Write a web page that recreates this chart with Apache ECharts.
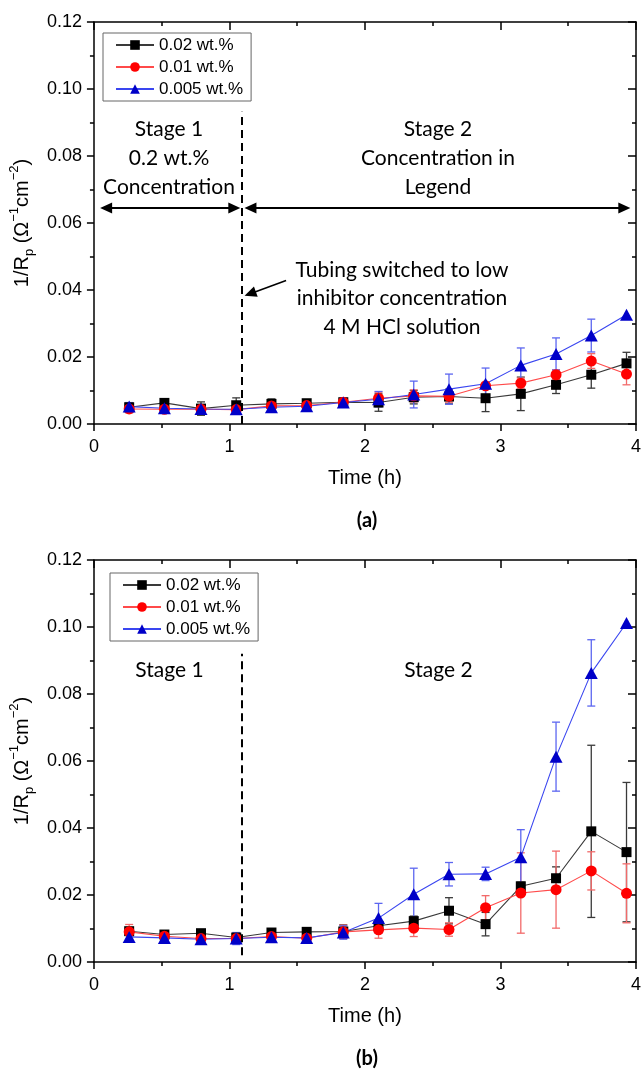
<!DOCTYPE html>
<html>
<head>
<meta charset="utf-8">
<script src="https://cdn.jsdelivr.net/npm/echarts@6/dist/echarts.min.js"></script>
<style>
  html, body { margin: 0; padding: 0; background: #fff; }
  #chart { width: 644px; height: 1069px; }
</style>
</head>
<body>
<div id="chart"></div>
<script>
// Sampling times (h), shared by both experiments
const timeH = [0.26, 0.52, 0.79, 1.05, 1.31, 1.57, 1.84, 2.10, 2.36, 2.62, 2.89, 3.15, 3.41, 3.67, 3.93];

const seriesNames = ['0.02 wt.%', '0.01 wt.%', '0.005 wt.%'];

// Panel (a): 1/Rp values and error half-widths
const a002 = [0.0050, 0.0063, 0.0046, 0.0056, 0.0060, 0.0062, 0.0065, 0.0064, 0.0080, 0.0082, 0.0077, 0.0090, 0.0117, 0.0147, 0.0181];
const a001 = [0.0045, 0.0044, 0.0044, 0.0043, 0.0054, 0.0055, 0.0065, 0.0077, 0.0084, 0.0083, 0.0114, 0.0122, 0.0147, 0.0188, 0.0149];
const a0005 = [0.0052, 0.0047, 0.0045, 0.0044, 0.0050, 0.0053, 0.0064, 0.0074, 0.0088, 0.0104, 0.0120, 0.0175, 0.0209, 0.0264, 0.0326];
const aErr002 = [0.0012, 0.0010, 0.0020, 0.0022, 0.0015, 0.0009, 0.0010, 0.0026, 0.0020, 0.0022, 0.0040, 0.0050, 0.0026, 0.0040, 0.0033];
const aErr001 = [0.0012, 0.0010, 0.0010, 0.0008, 0.0008, 0.0008, 0.0010, 0.0018, 0.0018, 0.0018, 0.0010, 0.0015, 0.0015, 0.0022, 0.0032];
const aErr0005 = [0.0012, 0.0015, 0.0012, 0.0012, 0.0010, 0.0012, 0.0012, 0.0023, 0.0040, 0.0045, 0.0047, 0.0052, 0.0048, 0.0049, 0];

// Panel (b)
const b002 = [0.0092, 0.0082, 0.0086, 0.0073, 0.0088, 0.0090, 0.0091, 0.0108, 0.0122, 0.0153, 0.0113, 0.0226, 0.0250, 0.0390, 0.0328];
const b001 = [0.0090, 0.0077, 0.0070, 0.0070, 0.0076, 0.0071, 0.0090, 0.0096, 0.0101, 0.0097, 0.0162, 0.0206, 0.0216, 0.0272, 0.0205];
const b0005 = [0.0075, 0.0072, 0.0068, 0.0070, 0.0074, 0.0072, 0.0088, 0.0131, 0.0202, 0.0262, 0.0263, 0.0313, 0.0613, 0.0863, 0.1012];
const bErr002 = [0.0010, 0.0006, 0.0008, 0.0008, 0.0008, 0.0008, 0.0020, 0.0010, 0.0015, 0.0039, 0.0035, 0.0012, 0.0034, 0.0257, 0.0208];
const bErr001 = [0.0022, 0.0010, 0.0015, 0.0012, 0.0010, 0.0012, 0.0020, 0.0025, 0.0025, 0.0020, 0.0036, 0.0120, 0.0115, 0.0057, 0.0088];
const bErr0005 = [0.0015, 0.0010, 0.0012, 0.0018, 0.0015, 0.0012, 0.0020, 0.0044, 0.0078, 0.0035, 0.0020, 0.0082, 0.0103, 0.0099, 0];

// Axis ticks
const xTicks = [0, 1, 2, 3, 4];
const yTicks = [0, 0.02, 0.04, 0.06, 0.08, 0.10, 0.12];

// Annotation geometry in data units
const stageSwitchTime = 1.092;
const stageArrowY = 0.0645;

const axisFont = 'Liberation Sans, Arial, sans-serif';
const noteFont = 'Lato, "Open Sans", sans-serif';

const looks = [
  { symbol: 'rect', size: 10, fill: '#000000', line: '#3a3a3a', bar: '#3a3a3a' },
  { symbol: 'circle', size: 11, fill: '#ff0000', line: '#ff4a4a', bar: '#f26a6a' },
  { symbol: 'triangle', size: [13, 12], fill: '#0000c8', line: '#3a46f0', bar: '#5c66f0' }
];

const chart = echarts.init(document.getElementById('chart'), null, { renderer: 'canvas' });

function xAxes(gridIndex) {
  const common = {
    gridIndex, type: 'value', min: xTicks[0], max: xTicks[xTicks.length - 1], interval: 1,
    axisLine: { show: true, onZero: false, lineStyle: { color: '#000', width: 1.5 } },
    splitLine: { show: false },
    minorTick: { show: true, splitNumber: 2, length: 4, lineStyle: { color: '#000', width: 1.5 } }
  };
  return [
    Object.assign({}, common, {
      position: 'bottom',
      axisTick: { show: true, length: 7, lineStyle: { color: '#000', width: 1.5 } },
      axisLabel: { show: true, color: '#000', fontFamily: axisFont, fontSize: 18, margin: 14 },
      name: 'Time (h)', nameLocation: 'middle', nameGap: 44,
      nameTextStyle: { color: '#000', fontFamily: axisFont, fontSize: 20 }
    }),
    Object.assign({}, common, {
      position: 'top',
      axisTick: { show: true, inside: true, length: 8, lineStyle: { color: '#000', width: 1.5 } },
      axisLabel: { show: false }
    })
  ];
}

function yAxes(gridIndex) {
  const common = {
    gridIndex, type: 'value', min: yTicks[0], max: yTicks[yTicks.length - 1], interval: 0.02,
    axisLine: { show: true, onZero: false, lineStyle: { color: '#000', width: 1.5 } },
    splitLine: { show: false },
    minorTick: { show: true, splitNumber: 2, length: 4, lineStyle: { color: '#000', width: 1.5 } }
  };
  return [
    Object.assign({}, common, {
      position: 'left',
      axisTick: { show: true, length: 7, lineStyle: { color: '#000', width: 1.5 } },
      axisLabel: {
        show: true, color: '#000', fontFamily: axisFont, fontSize: 18, margin: 12,
        formatter: v => v.toFixed(2)
      },
      name: '{m|1/R}{sub|p}{m| (Ω}{sup|−1}{m|cm}{sup|−2}{m|)}',
      nameLocation: 'middle', nameGap: 57,
      nameTextStyle: {
        color: '#000', fontFamily: axisFont, fontSize: 20,
        rich: {
          m: { fontFamily: axisFont, fontSize: 20, lineHeight: 28, color: '#000' },
          sub: { fontFamily: axisFont, fontSize: 13, lineHeight: 13, verticalAlign: 'bottom', color: '#000' },
          sup: { fontFamily: axisFont, fontSize: 13, lineHeight: 13, verticalAlign: 'top', color: '#000' }
        }
      }
    }),
    Object.assign({}, common, {
      position: 'right',
      axisTick: { show: true, inside: true, length: 8, lineStyle: { color: '#000', width: 1.5 } },
      axisLabel: { show: false }
    })
  ];
}

function errorBars(axisIdx, values, errs, color) {
  const data = timeH.map((t, i) => [t, values[i] - errs[i], values[i] + errs[i], errs[i]]);
  return {
    type: 'custom', xAxisIndex: axisIdx, yAxisIndex: axisIdx, silent: true, z: 2,
    encode: { x: 0, y: [1, 2] },
    data,
    renderItem(params, api) {
      if (api.value(3) <= 0) return null;
      const t = api.value(0);
      const lo = api.coord([t, api.value(1)]);
      const hi = api.coord([t, api.value(2)]);
      const cap = 4;
      const style = { stroke: color, lineWidth: 1.3, fill: null };
      return {
        type: 'group',
        children: [
          { type: 'line', shape: { x1: lo[0], y1: lo[1], x2: hi[0], y2: hi[1] }, style },
          { type: 'line', shape: { x1: lo[0] - cap, y1: lo[1], x2: lo[0] + cap, y2: lo[1] }, style },
          { type: 'line', shape: { x1: hi[0] - cap, y1: hi[1], x2: hi[0] + cap, y2: hi[1] }, style }
        ]
      };
    }
  };
}

function lineSeries(axisIdx, k, values) {
  const lk = looks[k];
  return {
    type: 'line', name: seriesNames[k], xAxisIndex: axisIdx, yAxisIndex: axisIdx,
    data: timeH.map((t, i) => [t, values[i]]),
    symbol: lk.symbol, symbolSize: lk.size,
    showSymbol: true, z: 3,
    itemStyle: { color: lk.fill, borderWidth: 0 },
    lineStyle: { color: lk.line, width: 1.1 },
    emphasis: { disabled: true }
  };
}

function panel(axisIdx, sets, errSets) {
  const out = [];
  sets.forEach((v, k) => out.push(errorBars(axisIdx * 2, v, errSets[k], looks[k].bar)));
  sets.forEach((v, k) => out.push(lineSeries(axisIdx * 2, k, v)));
  return out;
}

const dashStyle = { color: '#000', width: 2, type: [8, 5] };
const arrowStyle = { color: '#000', width: 1.8, type: 'solid' };

function guides(axisIdx, dashBottom, dashTop, withArrows) {
  const lines = [
    [
      { coord: [stageSwitchTime, dashBottom], symbol: 'none', lineStyle: dashStyle },
      { coord: [stageSwitchTime, dashTop], symbol: 'none' }
    ]
  ];
  if (withArrows) {
    lines.push([
      { coord: [0.09, stageArrowY], symbol: 'triangle', symbolSize: [11, 12], lineStyle: arrowStyle },
      { coord: [1.036, stageArrowY], symbol: 'triangle', symbolSize: [11, 12] }
    ]);
    lines.push([
      { coord: [1.155, stageArrowY], symbol: 'triangle', symbolSize: [11, 12], lineStyle: arrowStyle },
      { coord: [3.914, stageArrowY], symbol: 'triangle', symbolSize: [11, 12] }
    ]);
    lines.push([
      { coord: [1.418, 0.0428], symbol: 'none', lineStyle: { color: '#000', width: 1.6, type: 'solid' } },
      { coord: [1.153, 0.0389], symbol: 'triangle', symbolSize: [11, 12] }
    ]);
  }
  return {
    type: 'line', name: 'guides' + axisIdx, xAxisIndex: axisIdx, yAxisIndex: axisIdx,
    data: [], silent: true, z: 1,
    markLine: {
      silent: true, animation: false, symbol: 'none',
      label: { show: false },
      itemStyle: { color: '#000' },
      lineStyle: { color: '#000' },
      emphasis: { disabled: true },
      data: lines
    }
  };
}

function note(text, x, y, lh, extra) {
  return {
    type: 'text', x, y, silent: true,
    style: Object.assign({
      text, fill: '#000', font: '21px ' + noteFont,
      textAlign: 'center', textVerticalAlign: 'middle', lineHeight: lh || 29
    }, extra || {})
  };
}

const legendCommon = {
  orient: 'vertical', data: seriesNames, selectedMode: false,
  itemWidth: 38, itemHeight: 12, itemGap: 4,
  borderColor: '#666', borderWidth: 1, borderRadius: 0, padding: [3, 8, 3, 12],
  backgroundColor: '#fff',
  textStyle: { color: '#000', fontFamily: axisFont, fontSize: 17, lineHeight: 18 }
};

const option = {
  animation: false,
  backgroundColor: '#fff',
  grid: [
    { left: 93, top: 22, width: 548, height: 402 },
    { left: 93, top: 560, width: 548, height: 402 }
  ],
  xAxis: [...xAxes(0), ...xAxes(1)],
  yAxis: [...yAxes(0), ...yAxes(1)],
  legend: [
    Object.assign({}, legendCommon, { left: 103, top: 33 }),
    Object.assign({}, legendCommon, { left: 110, top: 573 })
  ],
  series: [
    guides(0, 0, 0.0932, true),
    guides(2, 0.002, 0.092, false),
    ...panel(0, [a002, a001, a0005], [aErr002, aErr001, aErr0005]),
    ...panel(1, [b002, b001, b0005], [bErr002, bErr001, bErr0005])
  ],
  graphic: [
    note('Stage 1\n0.2 wt.%\nConcentration', 169, 158),
    note('Stage 2\nConcentration in\nLegend', 438, 158),
    note('Tubing switched to low\ninhibitor concentration\n4 M HCl solution', 402, 298.5, 28.5),
    note('Stage 1', 169.5, 670),
    note('Stage 2', 438.5, 670),
    note('(a)', 367, 521, 20, { font: 'bold 20px ' + noteFont }),
    note('(b)', 367, 1059, 20, { font: 'bold 20px ' + noteFont })
  ]
};

chart.setOption(option);
</script>
</body>
</html>
